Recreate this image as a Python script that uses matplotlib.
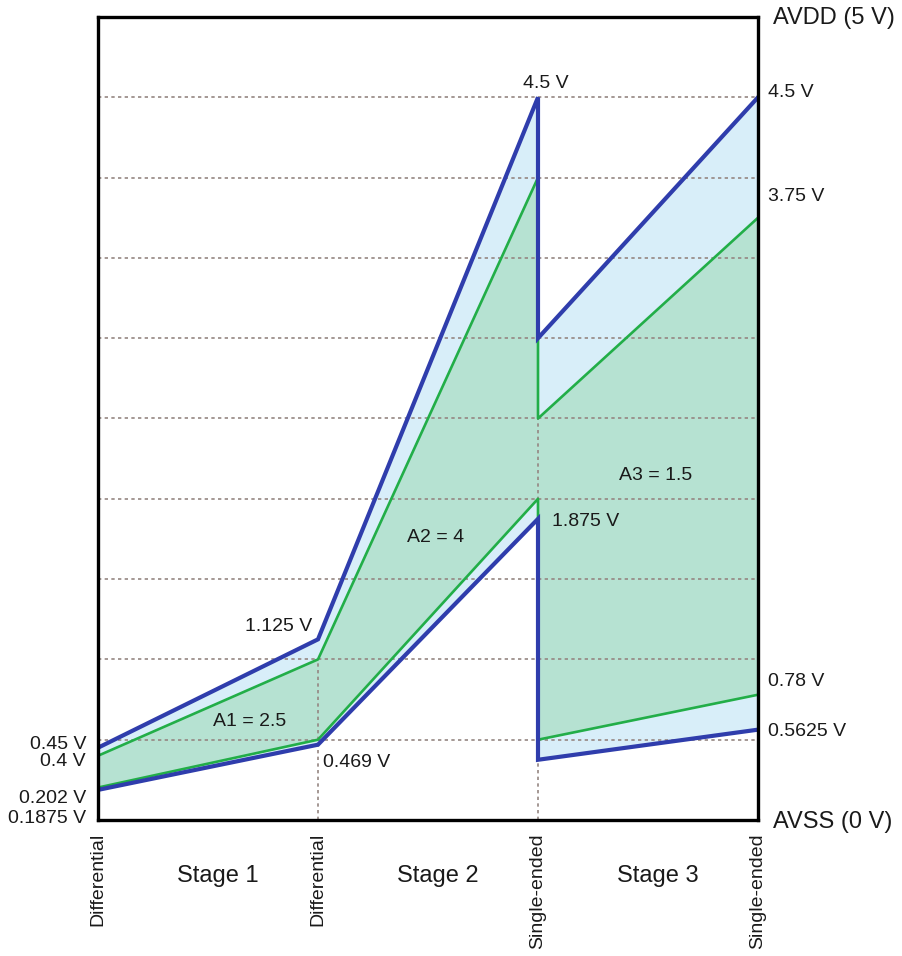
import matplotlib
matplotlib.use("Agg")
import matplotlib.pyplot as plt

plt.rcParams['font.family'] = ['Liberation Sans', 'DejaVu Sans']

# Stage boundaries (0 = input, 1..3 = after each stage); x=2 appears twice
# because the signal is re-referenced at the single-ended conversion.
stage_x = [0, 1, 2, 2, 3]

# Supply-limited headroom envelope (blue)
env_upper = [0.45, 1.125, 4.5, 3.0, 4.5]
env_lower = [0.1875, 0.469, 1.875, 0.375, 0.5625]

# Actual signal range (green)
sig_upper = [0.4, 1.0, 4.0, 2.5, 3.75]
sig_lower = [0.202, 0.5, 2.0, 0.5, 0.78]

grid_levels = [0.5, 1.0, 1.5, 2.0, 2.5, 3.0, 3.5, 4.0, 4.5]
boundary_types = ["Differential", "Differential", "Single-ended", "Single-ended"]
stage_names = ["Stage 1", "Stage 2", "Stage 3"]
gain_labels = ["A1 = 2.5", "A2 = 4", "A3 = 1.5"]

BLUE = "#2f3dac"
GREEN = "#22ae48"
BLUE_FILL = "#d8eef9"
GREEN_FILL = "#b6e2d2"
GRID = "#958682"

fig = plt.figure(figsize=(9.02, 9.56), dpi=100)
ax = fig.add_axes([98 / 902, 136 / 956, 660 / 902, 803 / 956])
ax.set_xlim(0, 3)
ax.set_ylim(0, 5)
ax.set_xticks([])
ax.set_yticks([])
for sp in ax.spines.values():
    sp.set_linewidth(2.4)
    sp.set_color("black")
    sp.set_zorder(10)

ax.fill_between(stage_x, env_lower, env_upper, color=BLUE_FILL, lw=0, zorder=1)
ax.fill_between(stage_x, sig_lower, sig_upper, color=GREEN_FILL, lw=0, zorder=1.5)

for lv in grid_levels:
    ax.plot([0, 3], [lv, lv], color=GRID, lw=1.2, ls=(0, (2, 2)), zorder=2)
ax.plot([1, 1], [0, sig_upper[1]], color=GRID, lw=1.2, ls=(0, (2, 2)), zorder=2)
ax.plot([2, 2], [0, env_upper[2]], color=GRID, lw=1.2, ls=(0, (2, 2)), zorder=2)

ax.plot(stage_x, sig_upper, color=GREEN, lw=1.9, zorder=3)
ax.plot(stage_x, sig_lower, color=GREEN, lw=1.9, zorder=3)
ax.plot(stage_x, env_upper, color=BLUE, lw=3.0, zorder=4, solid_joinstyle="miter")
ax.plot(stage_x, env_lower, color=BLUE, lw=3.0, zorder=4, solid_joinstyle="miter")

fs = 14


def note(x, y, text, dx, dy, ha="left", size=fs):
    ax.annotate(text, xy=(x, y), xytext=(dx, -dy), textcoords="offset pixels",
                ha=ha, va="center", fontsize=size, color="#1a1a1a",
                annotation_clip=False, zorder=6)


# Input levels (left)
note(0, env_upper[0], f"{env_upper[0]} V", -12, -3, ha="right")
note(0, sig_upper[0], f"{sig_upper[0]} V", -12, 6, ha="right")
note(0, sig_lower[0], f"{sig_lower[0]} V", -12, 11, ha="right")
note(0, env_lower[0], f"{env_lower[0]} V", -12, 29, ha="right")

# Intermediate levels
note(1, env_upper[1], f"{env_upper[1]} V", -6, -13, ha="right")
note(1, env_lower[1], f"{env_lower[1]} V", 5, 18)
note(2, env_upper[2], f"{env_upper[2]} V", 8, -14, ha="center")
note(2, env_lower[2], f"{env_lower[2]} V", 14, 3)

# Output levels (right)
note(3, env_upper[4], f"{env_upper[4]} V", 10, -5)
note(3, sig_upper[4], f"{sig_upper[4]} V", 10, -21)
note(3, sig_lower[4], f"{sig_lower[4]} V", 10, -13)
note(3, env_lower[4], f"{env_lower[4]} V", 10, 2)

# Supply rails
note(3, 5.0, "AVDD (5 V)", 15, 1, size=17)
note(3, 0.0, "AVSS (0 V)", 15, 2, size=17)

# Stage gains
gain_pos = [(0.69, 0.616), (1.536, 1.762), (2.536, 2.148)]
for (gx, gy), g in zip(gain_pos, gain_labels):
    ax.text(gx, gy, g, ha="center", va="center", fontsize=fs, color="#1a1a1a", zorder=6)

# Stage names and boundary signal types below the axis
for i, name in enumerate(stage_names):
    ax.text(i + 0.545, -0.349, name, ha="center", va="center", fontsize=17,
            color="#1a1a1a", clip_on=False)
for i, t in enumerate(boundary_types):
    ax.annotate(t, xy=(i, 0), xytext=(0, -13), textcoords="offset pixels",
                rotation=90, ha="center", va="top", fontsize=fs, color="#1a1a1a",
                annotation_clip=False)

fig.savefig("out.png", dpi=100, facecolor="white")
